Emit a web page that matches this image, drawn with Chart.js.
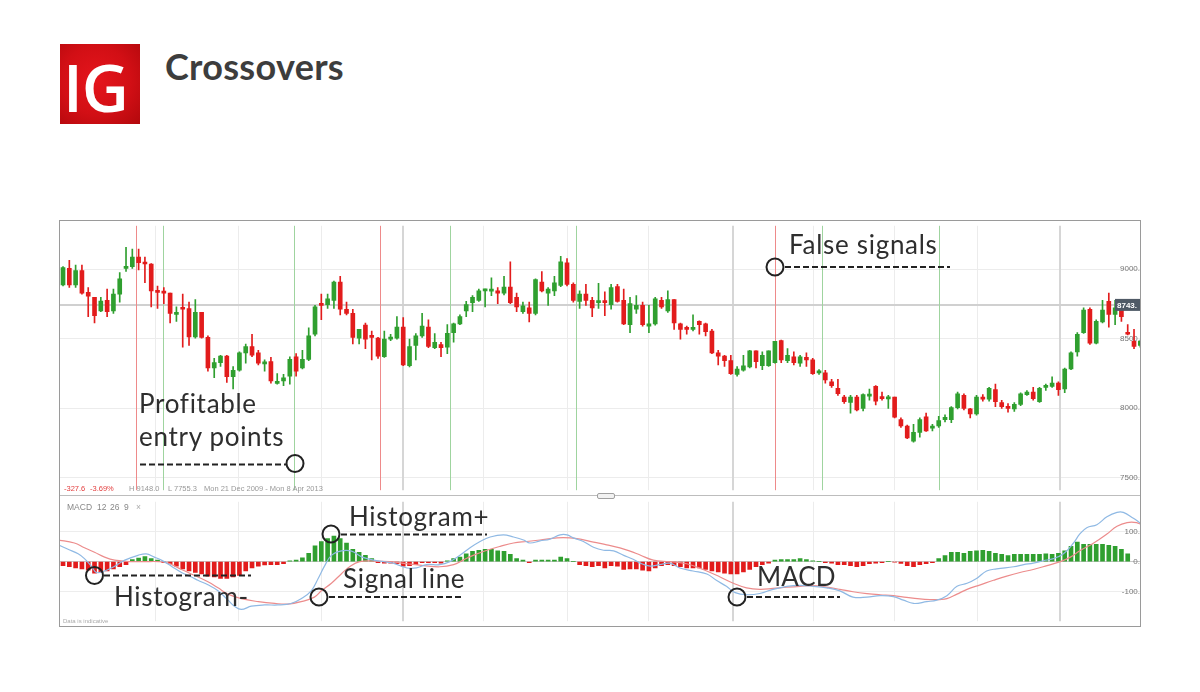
<!DOCTYPE html>
<html><head><meta charset="utf-8">
<script src="https://cdn.jsdelivr.net/npm/chart.js@4.4.1/dist/chart.umd.min.js"></script>
<style>
html,body{margin:0;padding:0;background:#fff;width:1200px;height:692px;overflow:hidden;font-family:Lato,sans-serif;}
.abs{position:absolute;}
#logo{left:60px;top:44px;width:80px;height:80px;background:radial-gradient(circle at 45% 45%,#e5151c 0%,#d20f15 55%,#b2080c 100%);overflow:hidden}
#logo span{position:absolute;left:3px;top:11px;font-family:'Open Sans',sans-serif;font-weight:600;font-size:65px;line-height:1;color:#fff;letter-spacing:-1px}
#title{left:165px;top:48px;font-size:36px;font-weight:700;color:#3d3d3d;line-height:1;font-family:Lato,sans-serif;letter-spacing:0.3px}
#frame{left:59px;top:220px;width:1080px;height:405px;border:1px solid #9a9a9a;}
canvas{position:absolute}
.ann{position:absolute;font-family:Lato,sans-serif;font-size:26px;line-height:1;color:#2e2e2e;white-space:nowrap;letter-spacing:0.7px}
.info{position:absolute;font-family:'Liberation Sans',Arial,sans-serif;font-size:7.5px;color:#999;line-height:1;white-space:nowrap}
.hdr{position:absolute;font-family:'Liberation Sans',Arial,sans-serif;font-size:8.5px;color:#888;line-height:1;white-space:nowrap}
</style></head>
<body>
<div id="logo" class="abs"><span>IG</span></div>
<div id="title" class="abs">Crossovers</div>
<div id="frame" class="abs"></div>
<canvas id="price" width="1080" height="274" style="left:60px;top:221px;width:1080px;height:274px"></canvas>
<canvas id="macd" width="1080" height="129" style="left:60px;top:497px;width:1080px;height:129px"></canvas>
<div class="abs" style="left:60px;top:495px;width:1080px;height:1px;background:#bdbdbd"></div>
<div class="abs" style="left:597px;top:493px;width:16px;height:4px;border:1px solid #a0a0a0;border-radius:2px;background:#f2f2f2"></div>

<div class="info" style="left:64px;top:485px;color:#e34040">-327.6</div>
<div class="info" style="left:90px;top:485px;color:#e34040">-3.69%</div>
<div class="info" style="left:129px;top:485px">H 9148.0</div>
<div class="info" style="left:168px;top:485px">L 7755.3</div>
<div class="info" style="left:204px;top:485px">Mon 21 Dec 2009 - Mon 8 Apr 2013</div>

<div class="hdr" style="left:67px;top:503px">MACD</div>
<div class="hdr" style="left:97px;top:503px">12</div>
<div class="hdr" style="left:110px;top:503px">26</div>
<div class="hdr" style="left:124px;top:503px">9</div>
<div class="hdr" style="left:136px;top:503px;color:#aaa">×</div>
<div class="info" style="left:63px;top:618px;font-size:6px;color:#aaa">Data is indicative</div>

<div class="ann" style="left:139px;top:390px">Profitable</div>
<div class="ann" style="left:139px;top:423px">entry points</div>
<div class="ann" style="left:789px;top:231px">False signals</div>
<div class="ann" style="left:349px;top:503px">Histogram+</div>
<div class="ann" style="left:343px;top:565px">Signal line</div>
<div class="ann" style="left:114px;top:583px">Histogram-</div>
<div class="ann" style="left:757px;top:563px;letter-spacing:0">MACD</div>

<svg class="abs" style="left:0;top:0;pointer-events:none" width="1200" height="692">
<g stroke="#222" stroke-width="2" fill="none">
<line x1="140" y1="464.5" x2="286" y2="464.5" stroke-dasharray="6 3"/>
<circle cx="295" cy="463.5" r="8.5"/>
<line x1="785" y1="267" x2="950" y2="267" stroke-dasharray="6 3"/>
<circle cx="775" cy="267" r="8.5"/>
<line x1="341" y1="534.5" x2="487" y2="534.5" stroke-dasharray="6 3"/>
<circle cx="331" cy="534" r="8.5"/>
<line x1="329" y1="597" x2="463" y2="597" stroke-dasharray="6 3"/>
<circle cx="319" cy="597" r="8.5"/>
<line x1="104" y1="575.5" x2="251" y2="575.5" stroke-dasharray="6 3"/>
<circle cx="94.5" cy="575.5" r="8.5"/>
<line x1="747" y1="597" x2="840" y2="597" stroke-dasharray="6 3"/>
<circle cx="737" cy="597" r="8.5"/>
</g>
</svg>

<script>
// Weekly candles, 21 Dec 2009 - 8 Apr 2013
const open = [8886,9006,8886,8990,8833,8798,8699,8775,8699,8821,9006,9018,9087,9046,9037,8844,8837,8828,8675,8717,8717,8513,8689,8509,8289,8328,8374,8226,8273,8398,8444,8398,8319,8335,8178,8196,8231,8370,8289,8351,8532,8752,8745,8775,8907,8712,8682,
8504,8597,8520,8504,8370,8497,8504,8583,8305,8451,8520,8583,8435,8458,8439,8543,8606,8699,8759,8775,8844,8842,8844,8828,8872,8798,8694,8722,8682,8907,8828,8844,8884,9046,8891,8768,8821,8775,8759,8770,8745,8875,8775,8601,8712,
8740,8590,8606,8775,8699,8782,8606,8578,8567,8624,8606,8555,8398,8374,8342,8243,8273,8296,8412,8305,8305,8328,8486,8342,8370,8324,8365,8347,8254,8254,8189,8143,8080,8041,8080,7999,8087,8157,8080,8067,8080,7918,7872,7763,7826,
7937,7856,7872,7918,7918,8004,8092,7995,7958,8080,8064,8134,8041,8011,7995,8027,8097,8115,8046,8150,8157,8180,8138,8282,8405,8543,8712,8467,8620,8768,8675,8706,8543,8481,8451];
const high = [9018,9064,9030,9030,8868,8798,8798,8856,8856,8976,9157,9145,9145,9087,9041,8879,8868,8828,8729,8821,8763,8782,8689,8520,8358,8381,8381,8300,8405,8462,8532,8416,8347,8365,8249,8243,8370,8393,8416,8578,8740,8821,8821,8914,8949,8763,8712,
8567,8613,8555,8509,8555,8532,8659,8652,8497,8537,8682,8636,8537,8474,8601,8613,8671,8768,8810,8856,8856,8937,8868,8949,9053,8828,8763,8763,8930,8983,8868,8949,9092,9076,8902,8844,8891,8798,8898,8837,8891,8891,8856,8798,8810,
8763,8740,8798,8798,8844,8782,8613,8590,8671,8629,8613,8567,8416,8381,8381,8300,8381,8416,8412,8405,8412,8481,8490,8428,8405,8381,8398,8358,8277,8273,8208,8208,8092,8092,8092,8104,8138,8162,8115,8092,8080,7930,7879,7884,7930,
7965,7884,7942,7953,8011,8115,8104,7999,8092,8097,8150,8173,8057,8034,8041,8111,8127,8150,8150,8173,8226,8189,8289,8405,8543,8722,8722,8636,8775,8828,8775,8717,8601,8567,8490];
const low = [8879,8868,8868,8821,8659,8613,8694,8659,8682,8763,8983,9006,8995,8902,8729,8717,8752,8613,8624,8439,8451,8504,8504,8266,8219,8300,8185,8138,8266,8324,8370,8312,8266,8180,8173,8162,8173,8231,8282,8342,8520,8636,8717,8717,8671,8671,8462,
8462,8428,8347,8358,8365,8486,8497,8305,8296,8347,8509,8435,8428,8370,8393,8474,8601,8659,8694,8768,8729,8810,8752,8814,8752,8694,8682,8620,8671,8837,8740,8810,8875,8879,8763,8717,8740,8659,8717,8666,8712,8763,8601,8543,8682,
8590,8543,8597,8717,8689,8567,8497,8532,8555,8532,8520,8393,8312,8300,8243,8231,8266,8289,8289,8277,8300,8324,8328,8328,8312,8300,8300,8243,8243,8180,8150,8092,8034,7965,7981,7981,8057,8023,8057,7999,7930,7861,7780,7756,7791,
7833,7837,7861,7902,7895,7995,7988,7930,7949,8050,8050,8011,7999,7972,7976,8018,8092,8057,8041,8127,8150,8092,8111,8277,8374,8537,8458,8462,8613,8583,8601,8624,8527,8428,8439];
const close = [9011,8886,8990,8828,8805,8666,8770,8694,8821,8930,9018,9087,9046,9037,8844,8833,8828,8682,8689,8712,8513,8689,8509,8289,8328,8374,8226,8273,8398,8444,8381,8324,8328,8196,8185,8219,8351,8266,8351,8520,8729,8740,8787,8907,8712,8682,8509,
8567,8497,8509,8374,8497,8509,8583,8312,8444,8520,8590,8444,8474,8435,8539,8606,8659,8745,8798,8844,8851,8851,8828,8872,8759,8729,8736,8682,8925,8844,8856,8902,9053,8891,8775,8821,8775,8722,8768,8759,8868,8768,8606,8752,8740,
8601,8606,8787,8729,8782,8613,8567,8567,8578,8601,8550,8398,8374,8342,8249,8282,8305,8412,8335,8381,8412,8481,8347,8381,8328,8370,8347,8249,8259,8203,8162,8104,8046,8080,7988,8097,8097,8050,8069,8074,7935,7872,7786,7826,7918,
7837,7865,7911,7935,8004,8104,7999,7958,8080,8064,8143,8046,8011,7999,8027,8104,8115,8069,8143,8162,8180,8134,8282,8398,8532,8706,8467,8624,8706,8675,8722,8659,8532,8444,8481];

// MACD histogram per candle
const histogram = [-13,-17,-21,-24,-28,-38,-36,-31,-24,-17,-10,
7,12,17,10,5,
-3,-7,-15,-24,-31,-36,-41,-48,-51,-56,-56,-51,-46,-31,-21,-15,-11,-10,-10,-7,
3,5,13,28,53,67,77,85,77,62,41,
31,21,10,
-3,-5,-5,-7,-15,-13,-10,
-3,
-3,-3,-5,
3,
10,15,26,34,38,41,41,36,34,24,10,5,
-3,
5,5,5,5,15,10,
0,
-10,-13,-17,-13,-21,-13,-15,
-26,-24,-24,
-28,-31,-21,-13,-10,-13,-17,-21,-21,-21,-26,-31,-34,-38,-41,-41,-34,-26,-17,-10,-5,
5,7,7,7,10,7,3,
0,
-3,-5,-10,-10,-13,-17,-13,-7,-5,-3,0,-2,-6,-13,-17,-10,-7,-3,
10,20,31,31,28,34,36,38,34,28,24,20,24,24,24,24,24,26,24,28,36,51,65,58,58,58,58,54,51,41,26,
null,null];

// MACD line (position in candles, value)
const macdX = [0.2,1.8,3.4,4.4,5.5,6.3,7.6,9.2,10.8,12.9,14.2,15.5,16.6,18.2,19.8,21.4,22.4,24.0,25.6,27.2,28.2,29.3,30.9,33.0,35.1,37.2,38.8,40.4,41.5,42.5,43.6,45.2,46.8,48.5,50.3,51.9,53.4,55.6,57.1,58.7,60.8,62.4,64.0,65.6,67.2,68.8,70.9,72.5,74.1,75.1,76.7,78.3,79.9,81.0,82.0,83.6,85.2,86.8,88.4,90.0,91.5,92.6,94.2,95.7,97.3,98.9,101.0,103.2,104.7,106.3,107.7,109.5,111.6,113.7,115.9,118.0,120.1,122.2,124.3,126.4,128.6,130.7,132.8,134.4,136.0,138.1,139.7,141.3,142.9,144.5,146.0,147.6,149.2,151.9,153.5,155.0,156.6,158.2,159.8,161.4,162.4,163.5,165.1,166.7,168.3,169.3,170.9,172.0];
const macdY = [56,41,26,10,-15,-36,-31,-15,5,21,26,15,5,-15,-36,-51,-62,-77,-97,-128,-148,-159,-148,-144,-144,-139,-123,-97,-56,-15,21,36,35,15,5,0,-5,-21,-21,-10,-10,0,21,46,67,82,89,82,72,62,69,75,89,89,79,67,48,38,36,21,8,-5,-15,-10,-5,-21,-31,-41,-62,-82,-103,-110,-106,-92,-82,-79,-82,-87,-97,-118,-118,-113,-116,-128,-139,-133,-128,-113,-82,-72,-56,-31,-24,-17,-10,-5,3,10,26,62,92,113,123,149,164,164,144,128];
// Signal line
const signalX = [0.2,2.8,4.4,6.0,7.6,9.2,11.8,14.0,16.1,17.7,19.8,21.9,24.0,25.6,27.2,29.3,32.0,34.6,36.7,38.8,40.9,42.0,43.6,45.2,46.6,48.1,50.3,52.9,55.6,58.2,60.8,63.0,64.5,66.1,68.3,70.4,72.5,74.6,76.7,79.4,81.5,83.1,85.2,87.3,89.4,91.0,92.6,94.7,97.3,100.0,102.6,105.3,107.4,109.5,111.6,113.7,115.9,118.0,120.1,122.2,124.3,126.4,128.6,130.7,132.8,134.9,137.0,138.6,140.2,141.3,142.9,144.5,146.6,148.7,150.8,152.9,155.0,157.2,159.3,160.9,162.4,164.6,166.7,168.3,169.9,171.4,172.2];
const signalY = [72,62,46,31,15,5,0,0,0,-5,-26,-46,-67,-87,-108,-123,-133,-139,-141,-133,-118,-97,-72,-40,-15,0,2,0,-7,-13,-17,-10,5,21,38,51,62,67,72,79,79,75,65,56,46,35,22,5,0,-7,-26,-51,-72,-87,-92,-89,-85,-82,-80,-85,-92,-100,-106,-110,-113,-119,-124,-126,-126,-123,-108,-92,-77,-62,-48,-36,-26,-13,0,15,36,62,92,118,130,130,123];

const priceTicks = [7500, 8000, 8500, 9000];
const macdTicks = [-100, 0, 100];
const lastPrice = 8743;
// crossover markers (candle positions)
const sellSignals = [12.6, 51.3, 114.0];
const buySignals = [16.8, 37.6, 62.4, 82.5, 121.5, 140.1];
// quarterly and yearly date gridlines (candle positions)
const quarterGrid = [15.6, 28.8, 42.0, 67.7, 81.0, 93.9, 120.0, 132.9, 146.1];
const yearGrid = [55.0, 107.3, 159.3];

const GREEN = '#2f9f2f', RED = '#e21c1c';
const XMIN = 0.52, XMAX = 171.95;
const idx = open.map((_, i) => i + 1);
const isUp = i => close[i] >= open[i];

function vline(ctx, area, x, color, w) {
  ctx.save(); ctx.strokeStyle = color; ctx.lineWidth = w;
  ctx.beginPath(); ctx.moveTo(x, area.top); ctx.lineTo(x, area.bottom); ctx.stroke(); ctx.restore();
}
function gridPlugin(withSignals) {
  return {
    id: 'dateGrid' + (withSignals ? 'P' : 'M'),
    beforeDatasetsDraw(chart) {
      const {ctx, chartArea: a, scales: {x, y}} = chart;
      quarterGrid.forEach(v => vline(ctx, a, Math.round(x.getPixelForValue(v)) + 0.5, '#ececec', 1));
      yearGrid.forEach(v => vline(ctx, a, Math.round(x.getPixelForValue(v)), '#d6d6d6', 2));
      if (withSignals) {
        const yp = Math.round(y.getPixelForValue(lastPrice));
        ctx.save(); ctx.strokeStyle = '#d0d0d0'; ctx.lineWidth = 2;
        ctx.beginPath(); ctx.moveTo(a.left, yp); ctx.lineTo(a.right, yp); ctx.stroke(); ctx.restore();
        sellSignals.forEach(v => vline(ctx, a, Math.round(x.getPixelForValue(v)) + 0.5, '#ee8a8a', 1));
        buySignals.forEach(v => vline(ctx, a, Math.round(x.getPixelForValue(v)) + 0.5, '#9fd49f', 1));
      }
    },
    afterDatasetsDraw(chart) {
      if (!withSignals) return;
      const {ctx, chartArea: a, scales: {y}} = chart;
      const yp = y.getPixelForValue(lastPrice);
      ctx.save();
      ctx.fillStyle = '#4f5a66';
      ctx.fillRect(a.right - 25, yp - 6, 26, 12);
      ctx.fillStyle = '#fff'; ctx.font = 'bold 8px "Liberation Sans", Arial';
      ctx.textBaseline = 'middle'; ctx.textAlign = 'left';
      ctx.fillText(lastPrice + '.', a.right - 23, yp + 0.5);
      ctx.restore();
    }
  };
}

new Chart(document.getElementById('price'), {
  type: 'bar',
  data: {datasets: [
    {data: idx.map((x, i) => ({x, y: [low[i], high[i]]})), barThickness: 1, grouped: false,
     backgroundColor: idx.map((x, i) => isUp(i) ? GREEN : RED), order: 2},
    {data: idx.map((x, i) => ({x, y: [open[i], close[i]]})), barThickness: 4, minBarLength: 2, grouped: false,
     backgroundColor: idx.map((x, i) => isUp(i) ? GREEN : RED), order: 1}
  ]},
  options: {
    responsive: false, animation: false, devicePixelRatio: 1,
    layout: {padding: 0},
    plugins: {legend: {display: false}, tooltip: {enabled: false}},
    scales: {
      x: {type: 'linear', min: XMIN, max: XMAX, offset: false, display: false},
      y: {position: 'right', min: 7410, max: 9312,
          afterBuildTicks: s => { s.ticks = priceTicks.map(v => ({value: v})); },
          ticks: {mirror: true, padding: 0, color: '#777', font: {size: 8, family: '"Liberation Sans", Arial'}, callback: v => v + '.'},
          grid: {color: '#ececec', drawTicks: false}, border: {display: false}}
    }
  },
  plugins: [gridPlugin(true)]
});

new Chart(document.getElementById('macd'), {
  type: 'bar',
  data: {datasets: [
    {type: 'line', data: macdX.map((x, i) => ({x, y: macdY[i]})), borderColor: '#8fb9e4', borderWidth: 1.2, pointRadius: 0, tension: 0.4, order: 1},
    {type: 'line', data: signalX.map((x, i) => ({x, y: signalY[i]})), borderColor: '#ec8c8c', borderWidth: 1.2, pointRadius: 0, tension: 0.4, order: 2},
    {type: 'bar', data: idx.map((x, i) => ({x, y: histogram[i]})), barThickness: 4, grouped: false,
     backgroundColor: histogram.map(v => v >= 0 ? GREEN : RED), order: 3}
  ]},
  options: {
    responsive: false, animation: false, devicePixelRatio: 1,
    layout: {padding: 0},
    plugins: {legend: {display: false}, tooltip: {enabled: false}},
    scales: {
      x: {type: 'linear', min: XMIN, max: XMAX, offset: false, display: false},
      y: {position: 'right', min: -198, max: 199,
          afterBuildTicks: s => { s.ticks = macdTicks.map(v => ({value: v})); },
          ticks: {mirror: true, padding: 0, color: '#777', font: {size: 8, family: '"Liberation Sans", Arial'}, callback: v => v + '.'},
          grid: {color: ctx => ctx.tick && ctx.tick.value === 0 ? '#c8c8c8' : '#ededed', drawTicks: false}, border: {display: false}}
    }
  },
  plugins: [gridPlugin(false)]
});
</script>
</body></html>
